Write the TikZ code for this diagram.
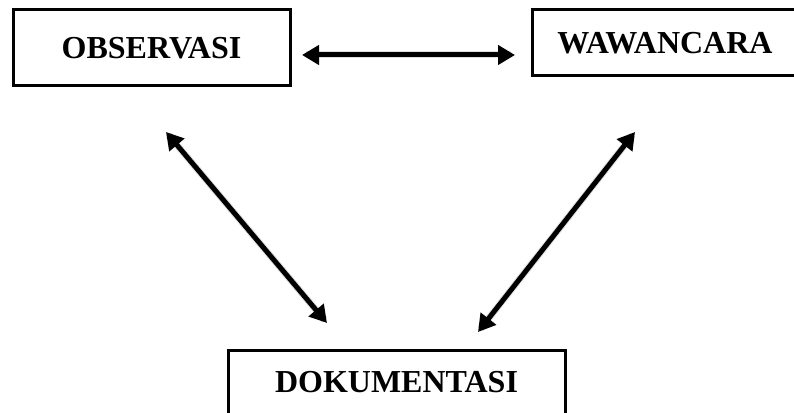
\documentclass[tikz,border=0pt]{standalone}
\usepackage{fontspec}
\setmainfont{Liberation Serif}
\usetikzlibrary{arrows.meta}
\tikzset{
  boxnode/.style={draw=black, line width=3pt, fill=white, inner sep=0pt,
    font=\fontsize{32}{34}\selectfont\bfseries, text=black},
  twoway/.style={line width=5pt, {Triangle[length=17pt,width=19pt]}-{Triangle[length=17pt,width=19pt]}},
  shade/.style={line width=7pt, draw=black!35, opacity=0.35, shorten <=4pt, shorten >=4pt}
}
\begin{document}
\begin{tikzpicture}[x=1pt,y=1pt]
\useasboundingbox (0,0) rectangle (794,412);
\clip (0,0) rectangle (794,412);
\fill[white] (0,0) rectangle (794,412);
\node[boxnode, minimum width=277pt, minimum height=76pt] (obs) at (151.5,364) {OBSERVASI};
\node[boxnode, minimum width=272pt, minimum height=66pt] (waw) at (668,369) {\hspace*{-6pt}WAWANCARA};
\node[boxnode, minimum width=337pt, minimum height=72pt, anchor=north] (dok) at (396.5,63) {\raisebox{10pt}{DOKUMENTASI}};
\coordinate (h1) at (302,357);
\coordinate (h2) at (515,357);
\coordinate (l1) at (166,280);
\coordinate (l2) at (327,89);
\coordinate (r1) at (635,280);
\coordinate (r2) at (478,80);
\begin{scope}[shift={(2,-3)}]
\draw[shade] (h1) -- (h2);
\draw[shade] (l1) -- (l2);
\draw[shade] (r1) -- (r2);
\end{scope}
\draw[twoway] (h1) -- (h2);
\draw[twoway] (l1) -- (l2);
\draw[twoway] (r1) -- (r2);
\end{tikzpicture}
\end{document}
